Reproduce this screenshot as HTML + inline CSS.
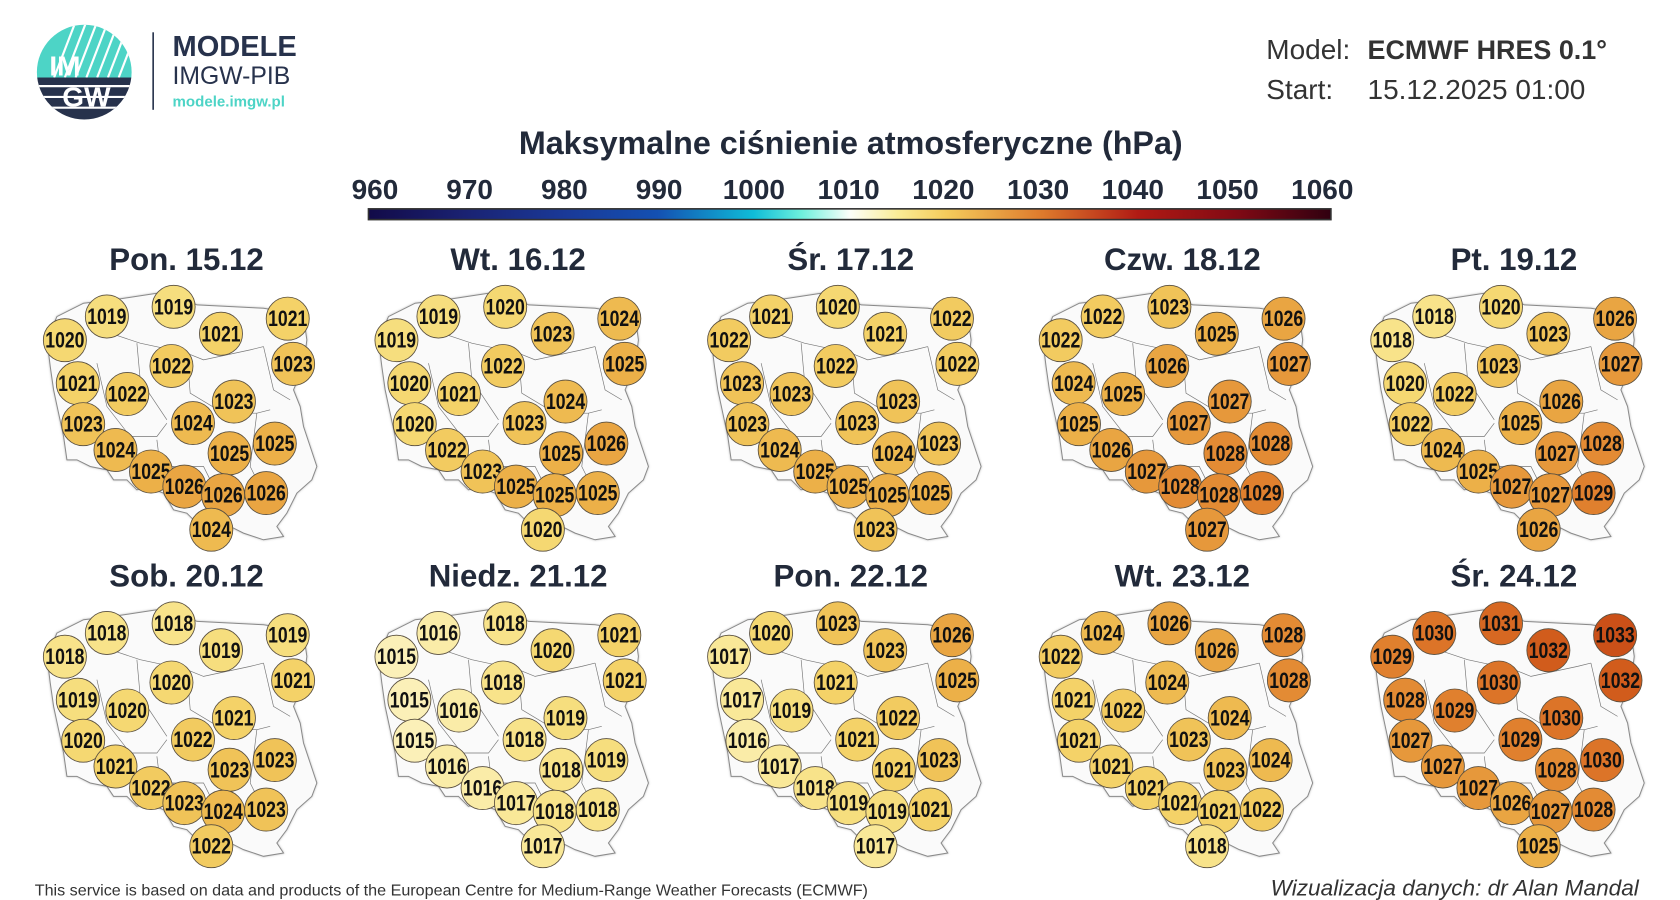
<!DOCTYPE html>
<html><head><meta charset="utf-8">
<style>
html,body{margin:0;padding:0;background:#fff;width:1680px;height:900px;overflow:hidden}
svg{display:block}
.n{font-family:"Liberation Sans Narrow","Liberation Sans",sans-serif;font-weight:bold;font-size:21px;fill:#111;text-anchor:middle;transform-box:fill-box;transform-origin:center;transform:translateY(1px) scaleX(0.78)}
.t{font-family:"Liberation Sans",sans-serif;font-weight:bold;font-size:29px;fill:#222a3a;text-anchor:middle}
.cb{font-family:"Liberation Sans Narrow","Liberation Sans",sans-serif;font-weight:bold;font-size:26px;fill:#222a3a;text-anchor:middle}
circle.s{stroke:#5a5040;stroke-width:0.8}
</style></head><body>
<svg width="1680" height="900" viewBox="0 0 1560 836" xmlns="http://www.w3.org/2000/svg">
<defs>
<linearGradient id="cg" x1="0" x2="1" y1="0" y2="0">
<stop offset="0" stop-color="#120a48"/><stop offset="0.1" stop-color="#1a2272"/><stop offset="0.2" stop-color="#1a3896"/><stop offset="0.3" stop-color="#1450b2"/><stop offset="0.4" stop-color="#0fbcd8"/><stop offset="0.45" stop-color="#6ef0dc"/><stop offset="0.5" stop-color="#fcfffa"/><stop offset="0.55" stop-color="#faec96"/><stop offset="0.6" stop-color="#f4cc5c"/><stop offset="0.7" stop-color="#de7a2c"/><stop offset="0.8" stop-color="#b01a14"/><stop offset="0.9" stop-color="#820a14"/><stop offset="1" stop-color="#300010"/>
</linearGradient>
<filter id="sh" x="-10%" y="-10%" width="120%" height="120%"><feDropShadow dx="0" dy="0" stdDeviation="3" flood-color="#888" flood-opacity="0.6"/></filter>
<g id="pl">
<g transform="matrix(0.3095,0,0,0.3095,27.86,260)">
<polygon filter="url(#sh)" fill="#fafafa" stroke="#8a8a8a" stroke-width="3" points="160,70 250,60 380,40 470,60 500,75 700,85 760,95 820,110 830,180 820,260 790,330 810,380 820,440 840,500 860,560 845,600 800,640 770,700 740,740 760,770 700,780 640,760 600,740 560,760 510,740 470,700 430,690 400,640 350,620 320,630 290,600 250,600 230,570 180,560 140,540 110,540 100,470 85,400 70,330 60,260 50,180 80,110"/>
<g fill="none" stroke="#777" stroke-width="2">
<polyline points="240,160 330,190 470,220 520,240 660,210 700,200"/>
<polyline points="320,190 330,300 390,390 410,420"/>
<polyline points="200,250 230,380 300,470 380,470 410,430"/>
<polyline points="470,220 480,340 580,400 680,400 720,390"/>
<polyline points="700,200 730,330 780,360"/>
<polyline points="380,480 390,560 440,560 520,560 540,600"/>
<polyline points="680,400 660,560 700,640"/>
<polyline points="300,470 280,560"/>
<polyline points="430,560 420,620"/>
</g></g></g>
</defs>

<!-- logo -->
<clipPath id="lc"><circle cx="78" cy="67" r="44"/></clipPath>
<g clip-path="url(#lc)">
<rect x="30" y="20" width="100" height="52" fill="#4dd4c6"/>
<g stroke="#fff" stroke-width="2"><line x1="50" y1="72" x2="70" y2="20"/><line x1="60" y1="72" x2="80" y2="20"/><line x1="70" y1="72" x2="90" y2="20"/><line x1="80" y1="72" x2="100" y2="20"/><line x1="90" y1="72" x2="110" y2="20"/><line x1="100" y1="72" x2="120" y2="20"/><line x1="110" y1="72" x2="130" y2="20"/></g>
<rect x="30" y="72" width="100" height="45" fill="#27324c"/>
<g stroke="#fff" stroke-width="2"><line x1="30" y1="80" x2="130" y2="80"/><line x1="30" y1="90" x2="130" y2="90"/><line x1="30" y1="100" x2="130" y2="100"/></g>
</g>
<text x="60" y="70" font-family="Liberation Sans" font-weight="bold" font-size="26" fill="#fff" text-anchor="middle">IM</text>
<text x="80" y="99" font-family="Liberation Sans" font-weight="bold" font-size="26" fill="#fff" text-anchor="middle">GW</text>
<line x1="142" y1="30" x2="142" y2="102" stroke="#27324c" stroke-width="1.5"/>
<text x="160" y="52" font-family="Liberation Sans" font-weight="bold" font-size="27" fill="#27324c">MODELE</text>
<text x="160" y="78" font-family="Liberation Sans" font-size="23" fill="#27324c">IMGW-PIB</text>
<text x="160" y="99" font-family="Liberation Sans" font-weight="bold" font-size="14" fill="#4dd4c6">modele.imgw.pl</text>

<text x="1176" y="55" font-family="Liberation Sans" font-size="26" fill="#333">Model:</text>
<text x="1270" y="55" font-family="Liberation Sans" font-weight="bold" font-size="25" fill="#333">ECMWF HRES 0.1°</text>
<text x="1176" y="92" font-family="Liberation Sans" font-size="26" fill="#333">Start:</text>
<text x="1270" y="92" font-family="Liberation Sans" font-size="26" fill="#333">15.12.2025 01:00</text>

<text x="790" y="143" font-family="Liberation Sans" font-weight="bold" font-size="30" fill="#222a3a" text-anchor="middle">Maksymalne ciśnienie atmosferyczne (hPa)</text>
<g class="cb"><text x="348" y="185" class="cb">960</text><text x="436" y="185" class="cb">970</text><text x="524" y="185" class="cb">980</text><text x="612" y="185" class="cb">990</text><text x="700" y="185" class="cb">1000</text><text x="788" y="185" class="cb">1010</text><text x="876" y="185" class="cb">1020</text><text x="964" y="185" class="cb">1030</text><text x="1052" y="185" class="cb">1040</text><text x="1140" y="185" class="cb">1050</text><text x="1228" y="185" class="cb">1060</text></g>
<rect x="342" y="194" width="894" height="10" fill="url(#cg)" stroke="#333" stroke-width="1.5"/>

<!-- titles -->
<text class="t" x="173" y="251">Pon. 15.12</text><text class="t" x="481" y="251">Wt. 16.12</text><text class="t" x="790" y="251">Śr. 17.12</text><text class="t" x="1098" y="251">Czw. 18.12</text><text class="t" x="1406" y="251">Pt. 19.12</text>
<text class="t" x="173" y="545">Sob. 20.12</text><text class="t" x="481" y="545">Niedz. 21.12</text><text class="t" x="790" y="545">Pon. 22.12</text><text class="t" x="1098" y="545">Wt. 23.12</text><text class="t" x="1406" y="545">Śr. 24.12</text>

<!-- Panel 1 -->
<g transform="translate(0,0)"><use href="#pl"/>
<circle class="s" cx="99" cy="294" r="20" fill="#f6de7e"/><text class="n" x="99" y="300">1019</text>
<circle class="s" cx="161" cy="285" r="20" fill="#f6de7e"/><text class="n" x="161" y="291">1019</text>
<circle class="s" cx="205" cy="310" r="20" fill="#f4d268"/><text class="n" x="205" y="316">1021</text>
<circle class="s" cx="267" cy="296" r="20" fill="#f4d268"/><text class="n" x="267" y="302">1021</text>
<circle class="s" cx="60" cy="316" r="20" fill="#f5d872"/><text class="n" x="60" y="322">1020</text>
<circle class="s" cx="159" cy="340" r="20" fill="#f2cb60"/><text class="n" x="159" y="346">1022</text>
<circle class="s" cx="272" cy="338" r="20" fill="#f0c358"/><text class="n" x="272" y="344">1023</text>
<circle class="s" cx="72" cy="356" r="20" fill="#f4d268"/><text class="n" x="72" y="362">1021</text>
<circle class="s" cx="118" cy="366" r="20" fill="#f2cb60"/><text class="n" x="118" y="372">1022</text>
<circle class="s" cx="217" cy="373" r="20" fill="#f0c358"/><text class="n" x="217" y="379">1023</text>
<circle class="s" cx="179" cy="393" r="20" fill="#eeba50"/><text class="n" x="179" y="399">1024</text>
<circle class="s" cx="77" cy="394" r="20" fill="#f0c358"/><text class="n" x="77" y="400">1023</text>
<circle class="s" cx="107" cy="418" r="20" fill="#eeba50"/><text class="n" x="107" y="424">1024</text>
<circle class="s" cx="213" cy="421" r="20" fill="#ecb048"/><text class="n" x="213" y="427">1025</text>
<circle class="s" cx="255" cy="412" r="20" fill="#ecb048"/><text class="n" x="255" y="418">1025</text>
<circle class="s" cx="140" cy="438" r="20" fill="#ecb048"/><text class="n" x="140" y="444">1025</text>
<circle class="s" cx="171" cy="452" r="20" fill="#e9a542"/><text class="n" x="171" y="458">1026</text>
<circle class="s" cx="207" cy="460" r="20" fill="#e9a542"/><text class="n" x="207" y="466">1026</text>
<circle class="s" cx="247" cy="458" r="20" fill="#e9a542"/><text class="n" x="247" y="464">1026</text>
<circle class="s" cx="196" cy="492" r="20" fill="#eeba50"/><text class="n" x="196" y="498">1024</text>
</g>

<!-- Panel 2 -->
<g transform="translate(308,0)"><use href="#pl"/>
<circle class="s" cx="99" cy="294" r="20" fill="#f6de7e"/><text class="n" x="99" y="300">1019</text>
<circle class="s" cx="161" cy="285" r="20" fill="#f5d872"/><text class="n" x="161" y="291">1020</text>
<circle class="s" cx="205" cy="310" r="20" fill="#f0c358"/><text class="n" x="205" y="316">1023</text>
<circle class="s" cx="267" cy="296" r="20" fill="#eeba50"/><text class="n" x="267" y="302">1024</text>
<circle class="s" cx="60" cy="316" r="20" fill="#f6de7e"/><text class="n" x="60" y="322">1019</text>
<circle class="s" cx="159" cy="340" r="20" fill="#f2cb60"/><text class="n" x="159" y="346">1022</text>
<circle class="s" cx="272" cy="338" r="20" fill="#ecb048"/><text class="n" x="272" y="344">1025</text>
<circle class="s" cx="72" cy="356" r="20" fill="#f5d872"/><text class="n" x="72" y="362">1020</text>
<circle class="s" cx="118" cy="366" r="20" fill="#f4d268"/><text class="n" x="118" y="372">1021</text>
<circle class="s" cx="217" cy="373" r="20" fill="#eeba50"/><text class="n" x="217" y="379">1024</text>
<circle class="s" cx="179" cy="393" r="20" fill="#f0c358"/><text class="n" x="179" y="399">1023</text>
<circle class="s" cx="77" cy="394" r="20" fill="#f5d872"/><text class="n" x="77" y="400">1020</text>
<circle class="s" cx="107" cy="418" r="20" fill="#f2cb60"/><text class="n" x="107" y="424">1022</text>
<circle class="s" cx="213" cy="421" r="20" fill="#ecb048"/><text class="n" x="213" y="427">1025</text>
<circle class="s" cx="255" cy="412" r="20" fill="#e9a542"/><text class="n" x="255" y="418">1026</text>
<circle class="s" cx="140" cy="438" r="20" fill="#f0c358"/><text class="n" x="140" y="444">1023</text>
<circle class="s" cx="171" cy="452" r="20" fill="#ecb048"/><text class="n" x="171" y="458">1025</text>
<circle class="s" cx="207" cy="460" r="20" fill="#ecb048"/><text class="n" x="207" y="466">1025</text>
<circle class="s" cx="247" cy="458" r="20" fill="#ecb048"/><text class="n" x="247" y="464">1025</text>
<circle class="s" cx="196" cy="492" r="20" fill="#f5d872"/><text class="n" x="196" y="498">1020</text>
</g>

<!-- Panel 3 -->
<g transform="translate(617,0)"><use href="#pl"/>
<circle class="s" cx="99" cy="294" r="20" fill="#f4d268"/><text class="n" x="99" y="300">1021</text>
<circle class="s" cx="161" cy="285" r="20" fill="#f5d872"/><text class="n" x="161" y="291">1020</text>
<circle class="s" cx="205" cy="310" r="20" fill="#f4d268"/><text class="n" x="205" y="316">1021</text>
<circle class="s" cx="267" cy="296" r="20" fill="#f2cb60"/><text class="n" x="267" y="302">1022</text>
<circle class="s" cx="60" cy="316" r="20" fill="#f2cb60"/><text class="n" x="60" y="322">1022</text>
<circle class="s" cx="159" cy="340" r="20" fill="#f2cb60"/><text class="n" x="159" y="346">1022</text>
<circle class="s" cx="272" cy="338" r="20" fill="#f2cb60"/><text class="n" x="272" y="344">1022</text>
<circle class="s" cx="72" cy="356" r="20" fill="#f0c358"/><text class="n" x="72" y="362">1023</text>
<circle class="s" cx="118" cy="366" r="20" fill="#f0c358"/><text class="n" x="118" y="372">1023</text>
<circle class="s" cx="217" cy="373" r="20" fill="#f0c358"/><text class="n" x="217" y="379">1023</text>
<circle class="s" cx="179" cy="393" r="20" fill="#f0c358"/><text class="n" x="179" y="399">1023</text>
<circle class="s" cx="77" cy="394" r="20" fill="#f0c358"/><text class="n" x="77" y="400">1023</text>
<circle class="s" cx="107" cy="418" r="20" fill="#eeba50"/><text class="n" x="107" y="424">1024</text>
<circle class="s" cx="213" cy="421" r="20" fill="#eeba50"/><text class="n" x="213" y="427">1024</text>
<circle class="s" cx="255" cy="412" r="20" fill="#f0c358"/><text class="n" x="255" y="418">1023</text>
<circle class="s" cx="140" cy="438" r="20" fill="#ecb048"/><text class="n" x="140" y="444">1025</text>
<circle class="s" cx="171" cy="452" r="20" fill="#ecb048"/><text class="n" x="171" y="458">1025</text>
<circle class="s" cx="207" cy="460" r="20" fill="#ecb048"/><text class="n" x="207" y="466">1025</text>
<circle class="s" cx="247" cy="458" r="20" fill="#ecb048"/><text class="n" x="247" y="464">1025</text>
<circle class="s" cx="196" cy="492" r="20" fill="#f0c358"/><text class="n" x="196" y="498">1023</text>
</g>

<!-- Panel 4 -->
<g transform="translate(925,0)"><use href="#pl"/>
<circle class="s" cx="99" cy="294" r="20" fill="#f2cb60"/><text class="n" x="99" y="300">1022</text>
<circle class="s" cx="161" cy="285" r="20" fill="#f0c358"/><text class="n" x="161" y="291">1023</text>
<circle class="s" cx="205" cy="310" r="20" fill="#ecb048"/><text class="n" x="205" y="316">1025</text>
<circle class="s" cx="267" cy="296" r="20" fill="#e9a542"/><text class="n" x="267" y="302">1026</text>
<circle class="s" cx="60" cy="316" r="20" fill="#f2cb60"/><text class="n" x="60" y="322">1022</text>
<circle class="s" cx="159" cy="340" r="20" fill="#e9a542"/><text class="n" x="159" y="346">1026</text>
<circle class="s" cx="272" cy="338" r="20" fill="#e6983b"/><text class="n" x="272" y="344">1027</text>
<circle class="s" cx="72" cy="356" r="20" fill="#eeba50"/><text class="n" x="72" y="362">1024</text>
<circle class="s" cx="118" cy="366" r="20" fill="#ecb048"/><text class="n" x="118" y="372">1025</text>
<circle class="s" cx="217" cy="373" r="20" fill="#e6983b"/><text class="n" x="217" y="379">1027</text>
<circle class="s" cx="179" cy="393" r="20" fill="#e6983b"/><text class="n" x="179" y="399">1027</text>
<circle class="s" cx="77" cy="394" r="20" fill="#ecb048"/><text class="n" x="77" y="400">1025</text>
<circle class="s" cx="107" cy="418" r="20" fill="#e9a542"/><text class="n" x="107" y="424">1026</text>
<circle class="s" cx="213" cy="421" r="20" fill="#e38b34"/><text class="n" x="213" y="427">1028</text>
<circle class="s" cx="255" cy="412" r="20" fill="#e38b34"/><text class="n" x="255" y="418">1028</text>
<circle class="s" cx="140" cy="438" r="20" fill="#e6983b"/><text class="n" x="140" y="444">1027</text>
<circle class="s" cx="171" cy="452" r="20" fill="#e38b34"/><text class="n" x="171" y="458">1028</text>
<circle class="s" cx="207" cy="460" r="20" fill="#e38b34"/><text class="n" x="207" y="466">1028</text>
<circle class="s" cx="247" cy="458" r="20" fill="#e0802e"/><text class="n" x="247" y="464">1029</text>
<circle class="s" cx="196" cy="492" r="20" fill="#e6983b"/><text class="n" x="196" y="498">1027</text>
</g>

<!-- Panel 5 -->
<g transform="translate(1233,0)"><use href="#pl"/>
<circle class="s" cx="99" cy="294" r="20" fill="#f8e38a"/><text class="n" x="99" y="300">1018</text>
<circle class="s" cx="161" cy="285" r="20" fill="#f5d872"/><text class="n" x="161" y="291">1020</text>
<circle class="s" cx="205" cy="310" r="20" fill="#f0c358"/><text class="n" x="205" y="316">1023</text>
<circle class="s" cx="267" cy="296" r="20" fill="#e9a542"/><text class="n" x="267" y="302">1026</text>
<circle class="s" cx="60" cy="316" r="20" fill="#f8e38a"/><text class="n" x="60" y="322">1018</text>
<circle class="s" cx="159" cy="340" r="20" fill="#f0c358"/><text class="n" x="159" y="346">1023</text>
<circle class="s" cx="272" cy="338" r="20" fill="#e6983b"/><text class="n" x="272" y="344">1027</text>
<circle class="s" cx="72" cy="356" r="20" fill="#f5d872"/><text class="n" x="72" y="362">1020</text>
<circle class="s" cx="118" cy="366" r="20" fill="#f2cb60"/><text class="n" x="118" y="372">1022</text>
<circle class="s" cx="217" cy="373" r="20" fill="#e9a542"/><text class="n" x="217" y="379">1026</text>
<circle class="s" cx="179" cy="393" r="20" fill="#ecb048"/><text class="n" x="179" y="399">1025</text>
<circle class="s" cx="77" cy="394" r="20" fill="#f2cb60"/><text class="n" x="77" y="400">1022</text>
<circle class="s" cx="107" cy="418" r="20" fill="#eeba50"/><text class="n" x="107" y="424">1024</text>
<circle class="s" cx="213" cy="421" r="20" fill="#e6983b"/><text class="n" x="213" y="427">1027</text>
<circle class="s" cx="255" cy="412" r="20" fill="#e38b34"/><text class="n" x="255" y="418">1028</text>
<circle class="s" cx="140" cy="438" r="20" fill="#ecb048"/><text class="n" x="140" y="444">1025</text>
<circle class="s" cx="171" cy="452" r="20" fill="#e6983b"/><text class="n" x="171" y="458">1027</text>
<circle class="s" cx="207" cy="460" r="20" fill="#e6983b"/><text class="n" x="207" y="466">1027</text>
<circle class="s" cx="247" cy="458" r="20" fill="#e0802e"/><text class="n" x="247" y="464">1029</text>
<circle class="s" cx="196" cy="492" r="20" fill="#e9a542"/><text class="n" x="196" y="498">1026</text>
</g>

<!-- Panel 6 -->
<g transform="translate(0,294)"><use href="#pl"/>
<circle class="s" cx="99" cy="294" r="20" fill="#f8e38a"/><text class="n" x="99" y="300">1018</text>
<circle class="s" cx="161" cy="285" r="20" fill="#f8e38a"/><text class="n" x="161" y="291">1018</text>
<circle class="s" cx="205" cy="310" r="20" fill="#f6de7e"/><text class="n" x="205" y="316">1019</text>
<circle class="s" cx="267" cy="296" r="20" fill="#f6de7e"/><text class="n" x="267" y="302">1019</text>
<circle class="s" cx="60" cy="316" r="20" fill="#f8e38a"/><text class="n" x="60" y="322">1018</text>
<circle class="s" cx="159" cy="340" r="20" fill="#f5d872"/><text class="n" x="159" y="346">1020</text>
<circle class="s" cx="272" cy="338" r="20" fill="#f4d268"/><text class="n" x="272" y="344">1021</text>
<circle class="s" cx="72" cy="356" r="20" fill="#f6de7e"/><text class="n" x="72" y="362">1019</text>
<circle class="s" cx="118" cy="366" r="20" fill="#f5d872"/><text class="n" x="118" y="372">1020</text>
<circle class="s" cx="217" cy="373" r="20" fill="#f4d268"/><text class="n" x="217" y="379">1021</text>
<circle class="s" cx="179" cy="393" r="20" fill="#f2cb60"/><text class="n" x="179" y="399">1022</text>
<circle class="s" cx="77" cy="394" r="20" fill="#f5d872"/><text class="n" x="77" y="400">1020</text>
<circle class="s" cx="107" cy="418" r="20" fill="#f4d268"/><text class="n" x="107" y="424">1021</text>
<circle class="s" cx="213" cy="421" r="20" fill="#f0c358"/><text class="n" x="213" y="427">1023</text>
<circle class="s" cx="255" cy="412" r="20" fill="#f0c358"/><text class="n" x="255" y="418">1023</text>
<circle class="s" cx="140" cy="438" r="20" fill="#f2cb60"/><text class="n" x="140" y="444">1022</text>
<circle class="s" cx="171" cy="452" r="20" fill="#f0c358"/><text class="n" x="171" y="458">1023</text>
<circle class="s" cx="207" cy="460" r="20" fill="#eeba50"/><text class="n" x="207" y="466">1024</text>
<circle class="s" cx="247" cy="458" r="20" fill="#f0c358"/><text class="n" x="247" y="464">1023</text>
<circle class="s" cx="196" cy="492" r="20" fill="#f2cb60"/><text class="n" x="196" y="498">1022</text>
</g>

<!-- Panel 7 -->
<g transform="translate(308,294)"><use href="#pl"/>
<circle class="s" cx="99" cy="294" r="20" fill="#faeca8"/><text class="n" x="99" y="300">1016</text>
<circle class="s" cx="161" cy="285" r="20" fill="#f8e38a"/><text class="n" x="161" y="291">1018</text>
<circle class="s" cx="205" cy="310" r="20" fill="#f5d872"/><text class="n" x="205" y="316">1020</text>
<circle class="s" cx="267" cy="296" r="20" fill="#f4d268"/><text class="n" x="267" y="302">1021</text>
<circle class="s" cx="60" cy="316" r="20" fill="#fbf0b8"/><text class="n" x="60" y="322">1015</text>
<circle class="s" cx="159" cy="340" r="20" fill="#f8e38a"/><text class="n" x="159" y="346">1018</text>
<circle class="s" cx="272" cy="338" r="20" fill="#f4d268"/><text class="n" x="272" y="344">1021</text>
<circle class="s" cx="72" cy="356" r="20" fill="#fbf0b8"/><text class="n" x="72" y="362">1015</text>
<circle class="s" cx="118" cy="366" r="20" fill="#faeca8"/><text class="n" x="118" y="372">1016</text>
<circle class="s" cx="217" cy="373" r="20" fill="#f6de7e"/><text class="n" x="217" y="379">1019</text>
<circle class="s" cx="179" cy="393" r="20" fill="#f8e38a"/><text class="n" x="179" y="399">1018</text>
<circle class="s" cx="77" cy="394" r="20" fill="#fbf0b8"/><text class="n" x="77" y="400">1015</text>
<circle class="s" cx="107" cy="418" r="20" fill="#faeca8"/><text class="n" x="107" y="424">1016</text>
<circle class="s" cx="213" cy="421" r="20" fill="#f8e38a"/><text class="n" x="213" y="427">1018</text>
<circle class="s" cx="255" cy="412" r="20" fill="#f6de7e"/><text class="n" x="255" y="418">1019</text>
<circle class="s" cx="140" cy="438" r="20" fill="#faeca8"/><text class="n" x="140" y="444">1016</text>
<circle class="s" cx="171" cy="452" r="20" fill="#f9e898"/><text class="n" x="171" y="458">1017</text>
<circle class="s" cx="207" cy="460" r="20" fill="#f8e38a"/><text class="n" x="207" y="466">1018</text>
<circle class="s" cx="247" cy="458" r="20" fill="#f8e38a"/><text class="n" x="247" y="464">1018</text>
<circle class="s" cx="196" cy="492" r="20" fill="#f9e898"/><text class="n" x="196" y="498">1017</text>
</g>

<!-- Panel 8 -->
<g transform="translate(617,294)"><use href="#pl"/>
<circle class="s" cx="99" cy="294" r="20" fill="#f5d872"/><text class="n" x="99" y="300">1020</text>
<circle class="s" cx="161" cy="285" r="20" fill="#f0c358"/><text class="n" x="161" y="291">1023</text>
<circle class="s" cx="205" cy="310" r="20" fill="#f0c358"/><text class="n" x="205" y="316">1023</text>
<circle class="s" cx="267" cy="296" r="20" fill="#e9a542"/><text class="n" x="267" y="302">1026</text>
<circle class="s" cx="60" cy="316" r="20" fill="#f9e898"/><text class="n" x="60" y="322">1017</text>
<circle class="s" cx="159" cy="340" r="20" fill="#f4d268"/><text class="n" x="159" y="346">1021</text>
<circle class="s" cx="272" cy="338" r="20" fill="#ecb048"/><text class="n" x="272" y="344">1025</text>
<circle class="s" cx="72" cy="356" r="20" fill="#f9e898"/><text class="n" x="72" y="362">1017</text>
<circle class="s" cx="118" cy="366" r="20" fill="#f6de7e"/><text class="n" x="118" y="372">1019</text>
<circle class="s" cx="217" cy="373" r="20" fill="#f2cb60"/><text class="n" x="217" y="379">1022</text>
<circle class="s" cx="179" cy="393" r="20" fill="#f4d268"/><text class="n" x="179" y="399">1021</text>
<circle class="s" cx="77" cy="394" r="20" fill="#faeca8"/><text class="n" x="77" y="400">1016</text>
<circle class="s" cx="107" cy="418" r="20" fill="#f9e898"/><text class="n" x="107" y="424">1017</text>
<circle class="s" cx="213" cy="421" r="20" fill="#f4d268"/><text class="n" x="213" y="427">1021</text>
<circle class="s" cx="255" cy="412" r="20" fill="#f0c358"/><text class="n" x="255" y="418">1023</text>
<circle class="s" cx="140" cy="438" r="20" fill="#f8e38a"/><text class="n" x="140" y="444">1018</text>
<circle class="s" cx="171" cy="452" r="20" fill="#f6de7e"/><text class="n" x="171" y="458">1019</text>
<circle class="s" cx="207" cy="460" r="20" fill="#f6de7e"/><text class="n" x="207" y="466">1019</text>
<circle class="s" cx="247" cy="458" r="20" fill="#f4d268"/><text class="n" x="247" y="464">1021</text>
<circle class="s" cx="196" cy="492" r="20" fill="#f9e898"/><text class="n" x="196" y="498">1017</text>
</g>

<!-- Panel 9 -->
<g transform="translate(925,294)"><use href="#pl"/>
<circle class="s" cx="99" cy="294" r="20" fill="#eeba50"/><text class="n" x="99" y="300">1024</text>
<circle class="s" cx="161" cy="285" r="20" fill="#e9a542"/><text class="n" x="161" y="291">1026</text>
<circle class="s" cx="205" cy="310" r="20" fill="#e9a542"/><text class="n" x="205" y="316">1026</text>
<circle class="s" cx="267" cy="296" r="20" fill="#e38b34"/><text class="n" x="267" y="302">1028</text>
<circle class="s" cx="60" cy="316" r="20" fill="#f2cb60"/><text class="n" x="60" y="322">1022</text>
<circle class="s" cx="159" cy="340" r="20" fill="#eeba50"/><text class="n" x="159" y="346">1024</text>
<circle class="s" cx="272" cy="338" r="20" fill="#e38b34"/><text class="n" x="272" y="344">1028</text>
<circle class="s" cx="72" cy="356" r="20" fill="#f4d268"/><text class="n" x="72" y="362">1021</text>
<circle class="s" cx="118" cy="366" r="20" fill="#f2cb60"/><text class="n" x="118" y="372">1022</text>
<circle class="s" cx="217" cy="373" r="20" fill="#eeba50"/><text class="n" x="217" y="379">1024</text>
<circle class="s" cx="179" cy="393" r="20" fill="#f0c358"/><text class="n" x="179" y="399">1023</text>
<circle class="s" cx="77" cy="394" r="20" fill="#f4d268"/><text class="n" x="77" y="400">1021</text>
<circle class="s" cx="107" cy="418" r="20" fill="#f4d268"/><text class="n" x="107" y="424">1021</text>
<circle class="s" cx="213" cy="421" r="20" fill="#f0c358"/><text class="n" x="213" y="427">1023</text>
<circle class="s" cx="255" cy="412" r="20" fill="#eeba50"/><text class="n" x="255" y="418">1024</text>
<circle class="s" cx="140" cy="438" r="20" fill="#f4d268"/><text class="n" x="140" y="444">1021</text>
<circle class="s" cx="171" cy="452" r="20" fill="#f4d268"/><text class="n" x="171" y="458">1021</text>
<circle class="s" cx="207" cy="460" r="20" fill="#f4d268"/><text class="n" x="207" y="466">1021</text>
<circle class="s" cx="247" cy="458" r="20" fill="#f2cb60"/><text class="n" x="247" y="464">1022</text>
<circle class="s" cx="196" cy="492" r="20" fill="#f8e38a"/><text class="n" x="196" y="498">1018</text>
</g>

<!-- Panel 10 -->
<g transform="translate(1233,294)"><use href="#pl"/>
<circle class="s" cx="99" cy="294" r="20" fill="#dc7428"/><text class="n" x="99" y="300">1030</text>
<circle class="s" cx="161" cy="285" r="20" fill="#d76822"/><text class="n" x="161" y="291">1031</text>
<circle class="s" cx="205" cy="310" r="20" fill="#d15c1c"/><text class="n" x="205" y="316">1032</text>
<circle class="s" cx="267" cy="296" r="20" fill="#cb5018"/><text class="n" x="267" y="302">1033</text>
<circle class="s" cx="60" cy="316" r="20" fill="#e0802e"/><text class="n" x="60" y="322">1029</text>
<circle class="s" cx="159" cy="340" r="20" fill="#dc7428"/><text class="n" x="159" y="346">1030</text>
<circle class="s" cx="272" cy="338" r="20" fill="#d15c1c"/><text class="n" x="272" y="344">1032</text>
<circle class="s" cx="72" cy="356" r="20" fill="#e38b34"/><text class="n" x="72" y="362">1028</text>
<circle class="s" cx="118" cy="366" r="20" fill="#e0802e"/><text class="n" x="118" y="372">1029</text>
<circle class="s" cx="217" cy="373" r="20" fill="#dc7428"/><text class="n" x="217" y="379">1030</text>
<circle class="s" cx="179" cy="393" r="20" fill="#e0802e"/><text class="n" x="179" y="399">1029</text>
<circle class="s" cx="77" cy="394" r="20" fill="#e6983b"/><text class="n" x="77" y="400">1027</text>
<circle class="s" cx="107" cy="418" r="20" fill="#e6983b"/><text class="n" x="107" y="424">1027</text>
<circle class="s" cx="213" cy="421" r="20" fill="#e38b34"/><text class="n" x="213" y="427">1028</text>
<circle class="s" cx="255" cy="412" r="20" fill="#dc7428"/><text class="n" x="255" y="418">1030</text>
<circle class="s" cx="140" cy="438" r="20" fill="#e6983b"/><text class="n" x="140" y="444">1027</text>
<circle class="s" cx="171" cy="452" r="20" fill="#e9a542"/><text class="n" x="171" y="458">1026</text>
<circle class="s" cx="207" cy="460" r="20" fill="#e6983b"/><text class="n" x="207" y="466">1027</text>
<circle class="s" cx="247" cy="458" r="20" fill="#e38b34"/><text class="n" x="247" y="464">1028</text>
<circle class="s" cx="196" cy="492" r="20" fill="#ecb048"/><text class="n" x="196" y="498">1025</text>
</g>

<text x="32" y="832" font-family="Liberation Sans" font-size="15" fill="#333">This service is based on data and products of the European Centre for Medium-Range Weather Forecasts (ECMWF)</text>
<text x="1522" y="832" font-family="Liberation Sans" font-style="italic" font-size="21" fill="#333" text-anchor="end">Wizualizacja danych: dr Alan Mandal</text>
</svg>
</body></html>
